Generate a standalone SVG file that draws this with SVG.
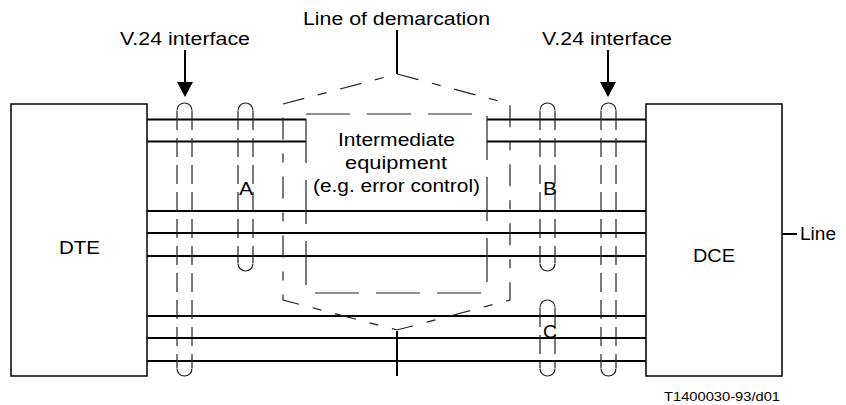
<svg xmlns="http://www.w3.org/2000/svg" width="846" height="405" viewBox="0 0 846 405">
<style>
text{font-family:"Liberation Sans",Arial,sans-serif;font-size:17.5px;fill:#000}
.sig{stroke:#000;stroke-width:2;fill:none}
.box{stroke:#000;stroke-width:1.5;fill:none}
.cap{stroke:#222;stroke-width:1.2;fill:none;stroke-dasharray:19 8}
.arc{stroke:#222;stroke-width:1.2;fill:none}
.hex{stroke:#222;stroke-width:1.2;fill:none;stroke-dasharray:22 14 9 14}
.inner{stroke:#222;stroke-width:1.2;fill:none;stroke-dasharray:44 17}
.solid{stroke:#000;stroke-width:2;fill:none}
</style>
<rect width="846" height="405" fill="#fff"/>
<g id="connectors">
<path class="sig" d="M147 119.5H306M487 119.5H646M147 141.5H306M487 141.5H646M147 211H646M147 233H646M147 256H646M147 316H646M147 338H646M147 361H646"/>
<path class="solid" d="M185 50V83M608 50V83"/>
<polygon points="177,82 193,82 185,97" fill="#000"/>
<polygon points="600,82 616,82 608,97" fill="#000"/>
<path class="solid" d="M397 30V74M397 331V376"/>
<path class="solid" d="M782 234H797"/>
</g>
<g id="DTE">
<rect class="box" x="11" y="104" width="136" height="272"/>
<text x="59" y="254" textLength="41" lengthAdjust="spacingAndGlyphs">DTE</text>
</g>
<g id="DCE">
<rect class="box" x="646" y="104" width="136" height="272"/>
<text x="693" y="262" textLength="42" lengthAdjust="spacingAndGlyphs">DCE</text>
</g>
<g id="demarcation">
<polygon class="hex" points="283,104 397,74 510,104 510,300 397,330 283,300"/>
<text x="303" y="25" textLength="187" lengthAdjust="spacingAndGlyphs">Line of demarcation</text>
</g>
<g id="intermediate">
<rect class="inner" x="306" y="114" width="181" height="179"/>
<text x="338" y="146" textLength="117" lengthAdjust="spacingAndGlyphs">Intermediate</text>
<text x="345" y="169" textLength="102" lengthAdjust="spacingAndGlyphs">equipment</text>
<text x="313" y="192" textLength="167" lengthAdjust="spacingAndGlyphs">(e.g. error control)</text>
</g>
<g id="v24-left">
<path class="arc" d="M177 110.5A7.5 7.5 0 0 1 192 110.5M177 368.5A7.5 7.5 0 0 0 192 368.5"/>
<path class="cap" d="M177 111V368M192 111V368"/>
<text x="120" y="45" textLength="130" lengthAdjust="spacingAndGlyphs">V.24 interface</text>
</g>
<g id="v24-right">
<path class="arc" d="M601 110.5A7.5 7.5 0 0 1 616 110.5M601 368.5A7.5 7.5 0 0 0 616 368.5"/>
<path class="cap" d="M601 111V368M616 111V368"/>
<text x="542" y="45" textLength="130" lengthAdjust="spacingAndGlyphs">V.24 interface</text>
</g>
<g id="A">
<path class="arc" d="M238 110.5A7.5 7.5 0 0 1 253 110.5M238 263.5A7.5 7.5 0 0 0 253 263.5"/>
<path class="cap" d="M238 111V263M253 111V263"/>
<text x="239" y="195" textLength="14" lengthAdjust="spacingAndGlyphs">A</text>
</g>
<g id="B">
<path class="arc" d="M540 110.5A7.5 7.5 0 0 1 555 110.5M540 263.5A7.5 7.5 0 0 0 555 263.5"/>
<path class="cap" d="M540 111V263M555 111V263"/>
<text x="543" y="195" textLength="14" lengthAdjust="spacingAndGlyphs">B</text>
</g>
<g id="C">
<path class="arc" d="M540 307.5A7.5 7.5 0 0 1 555 307.5M540 368.5A7.5 7.5 0 0 0 555 368.5"/>
<path class="cap" d="M540 308V368M555 308V368"/>
<text x="543" y="338" textLength="14" lengthAdjust="spacingAndGlyphs">C</text>
</g>
<g id="line">
<text x="800" y="240" textLength="36" lengthAdjust="spacingAndGlyphs">Line</text>
</g>
<text x="664" y="401" style="font-size:12px" textLength="116" lengthAdjust="spacingAndGlyphs">T1400030-93/d01</text>
</svg>
